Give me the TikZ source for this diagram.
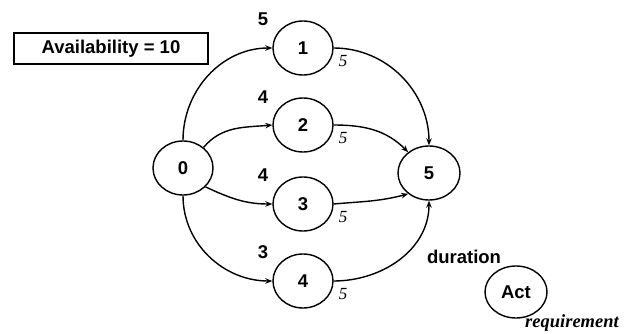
\documentclass[tikz,border=0pt]{standalone}
\usepackage{fontspec}
\setmainfont{Liberation Sans}
\newfontfamily\serifit{Liberation Serif}
\usetikzlibrary{shapes.geometric,arrows.meta}
\begin{document}
\begin{tikzpicture}[x=1pt,y=-1pt,
  act/.style={draw,ellipse,line width=1.4pt,minimum width=60pt,minimum height=54pt,inner sep=0pt,
              font=\fontsize{18.5}{18.5}\selectfont\bfseries},
  arr/.style={line width=1.4pt,-{Stealth[length=7pt,width=5.5pt]}},
  dur/.style={font=\fontsize{18.5}{18.5}\selectfont\bfseries},
  req/.style={font=\fontsize{17}{17}\selectfont\serifit\itshape}]
\useasboundingbox (0,0) rectangle (629,334);

% availability box
\node[draw,line width=1.4pt,minimum width=194pt,minimum height=31pt,inner sep=0pt,
      font=\fontsize{18.5}{18.5}\selectfont\bfseries] (avail) at (111,48.5) {Availability = 10};

% activities
\node[act] (n0) at (183,168) {0};
\node[act] (n1) at (303,48) {1};
\node[act] (n2) at (303,125) {2};
\node[act] (n3) at (303,204) {3};
\node[act] (n4) at (303,281) {4};
\node[act,minimum width=62pt] (n5) at (429,173) {5};
\node[act,minimum width=62pt,minimum height=52pt] (key) at (516,292) {Act};

% durations
\node[dur] (d1) at (263,19) {5};
\node[dur] (d2) at (263,97) {4};
\node[dur] (d3) at (263,175) {4};
\node[dur] (d4) at (263,252) {3};
\node[dur] (dk) at (464,257) {duration};

% resource requirements
\node[req] (r1) at (343,61) {5};
\node[req] (r2) at (343,138) {5};
\node[req] (r3) at (343,217) {5};
\node[req] (r4) at (343,294) {5};
\node[req,font=\fontsize{18.5}{18.5}\selectfont\serifit\bfseries\itshape] (rk) at (572,323) {requirement};

% precedence arcs
\draw[arr] (n0.north) to[out=90,in=180] (n1.west);
\draw[arr] (n0.45) to[out=50,in=185] (n2.west);
\draw[arr] (n0.-40) to[out=-25,in=180] (n3.west);
\draw[arr] (n0.south) to[out=-90,in=180] (n4.west);
\draw[arr] (n1.east) to[out=0,in=90] (n5.north);
\draw[arr] (n2.east) to[out=0,in=135] (n5.135);
\draw[arr] (n3.east) to[out=5,in=195] (n5.225);
\draw[arr] (n4.east) to[out=0,in=-90] (n5.south);
\end{tikzpicture}
\end{document}
